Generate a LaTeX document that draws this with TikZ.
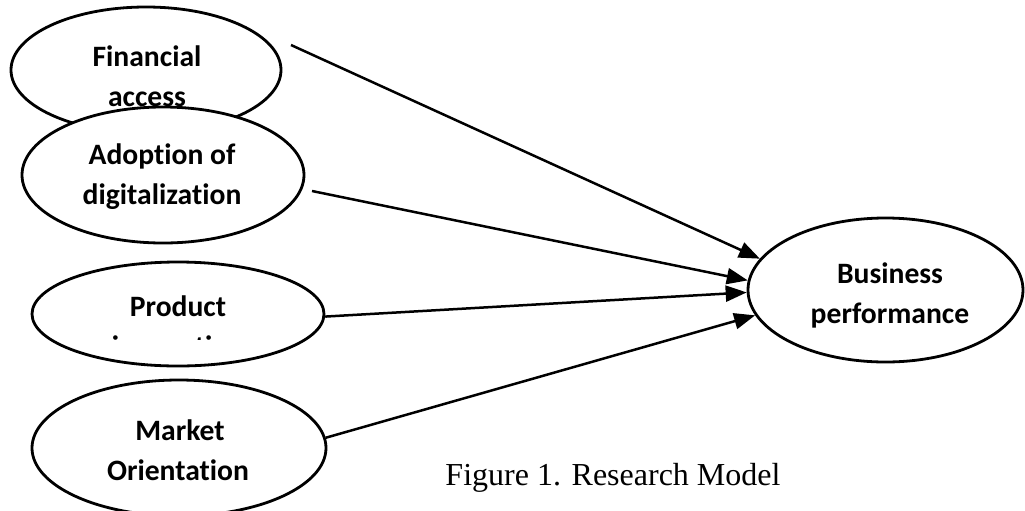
\documentclass[tikz,border=0pt]{standalone}
\usepackage{fontspec}
\setmainfont{Liberation Serif}
\newfontfamily\calfont[Ligatures=NoCommon]{Carlito}
\usetikzlibrary{shapes.geometric,arrows.meta}
\tikzset{
  oval/.style={ellipse, draw=black, line width=1.4pt, fill=white, inner sep=0pt},
  lbl/.style={anchor=base, inner sep=0pt, font=\calfont\bfseries\fontsize{14.8}{20}\selectfont},
  conn/.style={line width=1.25pt, -{Triangle[length=10.5pt,width=8pt]}}
}
\begin{document}
\begin{tikzpicture}[x=0.5pt,y=-0.5pt]
\useasboundingbox (0,0) rectangle (1025,510);
\clip (0,0) rectangle (1025,510);
% Financial access
\node[oval, minimum width=135pt, minimum height=63pt] (fa) at (146,70) {};
\node[lbl] (fa1) at (147,66) {Financial};
\node[lbl] (fa2) at (147,106) {access};
% Adoption of digitalization
\node[oval, minimum width=141pt, minimum height=68pt] (ad) at (163,175) {};
\node[lbl] (ad1) at (162,164) {Adoption of};
\node[lbl] (ad2) at (162,204) {digitalization};
% Product innovation
\node[oval, minimum width=146pt, minimum height=52pt] (pd) at (178,314) {};
\node[lbl] (pd1) at (178,316) {Product};
\begin{scope}
\clip (0,0) rectangle (1025,339.5);
\node[lbl] (pd2) at (178,356) {innovation};
\end{scope}
% Market orientation
\node[oval, minimum width=147pt, minimum height=68pt] (mo) at (179,448) {};
\node[lbl] (mo1) at (180,440) {Market};
\node[lbl] (mo2) at (178,480) {Orientation};
% Business performance
\node[oval, minimum width=137.5pt, minimum height=72pt] (bp) at (885.5,290) {};
\node[lbl] (bp1) at (890,283) {Business};
\node[lbl] (bp2) at (890,323) {performance};
% connectors
\coordinate (s1) at (291,45);
\coordinate (s2) at (312,191);
\draw[conn] (s1) -- (bp.166);
\draw[conn] (s2) -- (bp.176);
\draw[conn] (pd.-1.5) -- (bp.181);
\draw[conn] (mo.4) -- (bp.191);
% caption
\node[anchor=base, inner sep=0pt, font=\fontsize{16}{19}\selectfont] (cap) at (613,485) {Figure 1. Research Model};
\end{tikzpicture}
\end{document}
